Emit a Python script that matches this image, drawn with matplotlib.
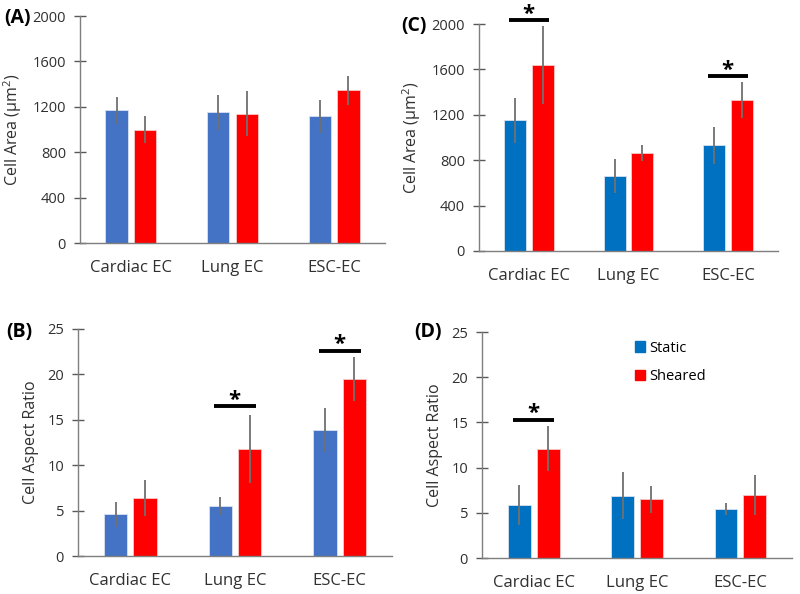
import numpy as np
import matplotlib
matplotlib.use('Agg')
import matplotlib.pyplot as plt
from matplotlib.patches import Patch

plt.rcParams['font.family'] = ['Open Sans', 'DejaVu Sans']
plt.rcParams['mathtext.fontset'] = 'custom'
plt.rcParams['mathtext.rm'] = 'Open Sans'
plt.rcParams['mathtext.bf'] = 'Open Sans:bold'

groups = ['Cardiac EC', 'Lung EC', 'ESC-EC']

# (A) cell area, first set
area_a_static = [1170, 1150, 1115]
area_a_static_err = [120, 155, 145]
area_a_sheared = [1000, 1140, 1345]
area_a_sheared_err = [120, 200, 130]

# (C) cell area, second set
area_c_static = [1150, 660, 930]
area_c_static_err = [195, 150, 165]
area_c_sheared = [1640, 865, 1330]
area_c_sheared_err = [345, 72, 155]

# (B) aspect ratio, first set
ar_b_static = [4.6, 5.5, 13.9]
ar_b_static_err = [1.4, 0.95, 2.4]
ar_b_sheared = [6.4, 11.8, 19.5]
ar_b_sheared_err = [1.95, 3.75, 2.45]

# (D) aspect ratio, second set
ar_d_static = [5.9, 6.9, 5.4]
ar_d_static_err = [2.2, 2.6, 0.65]
ar_d_sheared = [12.1, 6.5, 7.0]
ar_d_sheared_err = [2.45, 1.5, 2.2]

W, H = 800, 594
fig = plt.figure(figsize=(8, 5.94), dpi=100)


def px_axes(x0, x1, ytop, ybot):
    return fig.add_axes([x0 / W, 1 - ybot / H, (x1 - x0) / W, (ybot - ytop) / H])


def draw_panel(ax, static, s_err, sheared, sh_err, blue, ymax, step, ylabel, sig):
    x = np.arange(len(groups))
    off, w = 0.14, 0.22
    ax.bar(x - off, static, w, color=blue, edgecolor='#d8e2f0', linewidth=0.6, zorder=2)
    ax.bar(x + off, sheared, w, color='#ff0000', edgecolor='#f6c8c8', linewidth=0.6, zorder=2)
    ax.errorbar(x - off, static, yerr=s_err, fmt='none', ecolor='#707070', elinewidth=1.3, capsize=0, zorder=3)
    ax.errorbar(x + off, sheared, yerr=sh_err, fmt='none', ecolor='#707070', elinewidth=1.3, capsize=0, zorder=3)
    for gi, yv in sig:
        ax.plot([gi - 0.2, gi + 0.2], [yv, yv], color='black', lw=2.8, solid_capstyle='butt', clip_on=False, zorder=4)
        # mathtext gives a tight box around the asterisk
        ax.annotate(r'$\mathbf{*}$', xy=(gi, yv), xytext=(0, 12.5), textcoords='offset points',
                    ha='center', va='top', fontsize=16, annotation_clip=False)
    ax.set_xlim(-0.5, 2.5)
    ax.set_ylim(0, ymax)
    ax.set_yticks(np.arange(0, ymax + step / 2, step))
    ax.set_xticks(x)
    ax.set_xticklabels(groups, fontsize=12, color='#303030')
    ax.tick_params(axis='x', length=0, pad=12)
    ax.tick_params(axis='y', direction='inout', length=8, width=1, colors='#595959', labelcolor='#303030', labelsize=10.5, pad=6)
    for s in ['top', 'right']:
        ax.spines[s].set_visible(False)
    for s in ['left', 'bottom']:
        ax.spines[s].set_color('#7f7f7f')
        ax.spines[s].set_linewidth(1)
    ax.set_ylabel(ylabel, fontsize=11.5, color='#303030', labelpad=6)


ax_a = px_axes(80, 385, 16, 243)
draw_panel(ax_a, area_a_static, area_a_static_err, area_a_sheared, area_a_sheared_err,
           '#4472c4', 2000, 400, 'Cell Area (μm$^2$)', [])

ax_c = px_axes(479, 778, 24, 251)
draw_panel(ax_c, area_c_static, area_c_static_err, area_c_sheared, area_c_sheared_err,
           '#0070c0', 2000, 400, 'Cell Area (μm$^2$)', [(0, 2035), (2, 1540)])

ax_b = px_axes(78, 392, 329, 556)
draw_panel(ax_b, ar_b_static, ar_b_static_err, ar_b_sheared, ar_b_sheared_err,
           '#4472c4', 25, 5, 'Cell Aspect Ratio', [(1, 16.5), (2, 22.6)])

ax_d = px_axes(482, 792, 332, 558)
draw_panel(ax_d, ar_d_static, ar_d_static_err, ar_d_sheared, ar_d_sheared_err,
           '#0070c0', 25, 5, 'Cell Aspect Ratio', [(0, 15.3)])

handles = [Patch(color='#0070c0', label='Static'), Patch(color='#ff0000', label='Sheared')]
ax_d.legend(handles=handles, loc='upper left', bbox_to_anchor=(0.45, 1.02), frameon=False,
            handlelength=0.7, handleheight=0.7, handletextpad=0.3, labelspacing=0.9, fontsize=10.5)

for lab, xp, yp in [('(A)', 4, 18), ('(C)', 401, 26), ('(B)', 6, 332), ('(D)', 414, 332)]:
    fig.text(xp / W, 1 - yp / H, lab, fontsize=14, fontweight='bold', ha='left', va='center')

fig.savefig('out.png', dpi=100, facecolor='white')
